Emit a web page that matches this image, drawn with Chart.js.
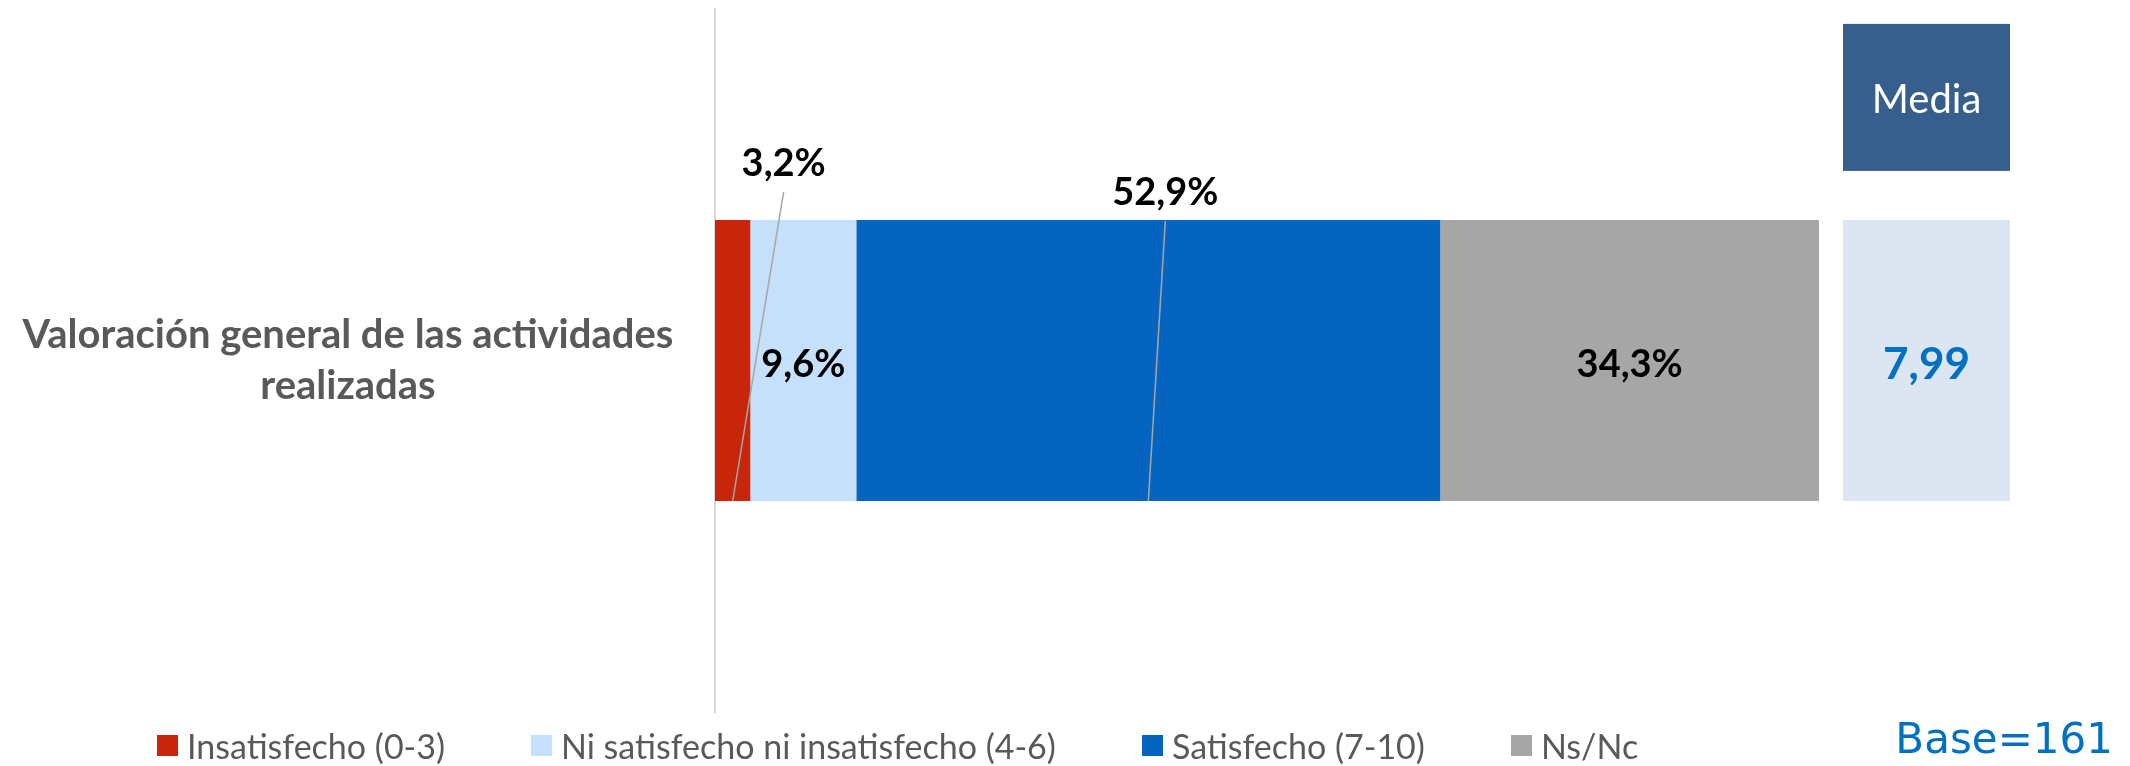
<!DOCTYPE html>
<html>
<head>
<meta charset="utf-8">
<script src="https://cdn.jsdelivr.net/npm/chart.js@4.4.1/dist/chart.umd.min.js"></script>
<style>
  html, body { margin: 0; padding: 0; background: #fff; }
  #wrap { position: relative; width: 2130px; height: 766px; overflow: hidden; }
  #chart { position: absolute; left: 0; top: 0; }
  #legend { position: absolute; left: 157px; top: 725px; height: 41px; display: flex; align-items: center;
            gap: 86px; font-family: Lato, "Open Sans", sans-serif; font-size: 34px; color: #595959; }
  #legend .item { display: flex; align-items: center; white-space: nowrap; }
  #legend .sw { width: 21px; height: 21px; margin-right: 9px; }
  #base { position: absolute; right: 17px; top: 718px; font: 42px/1 "DejaVu Sans", sans-serif; color: #0070c0; }
</style>
</head>
<body>
<div id="wrap">
  <canvas id="chart" width="2130" height="766"></canvas>
  <div id="legend"></div>
  <div id="base"></div>
</div>
<script>
// ---- data ----
const CATEGORIES = [['Valoración general de las actividades', 'realizadas']];
const SERIES = ['Insatisfecho (0-3)', 'Ni satisfecho ni insatisfecho (4-6)', 'Satisfecho (7-10)', 'Ns/Nc'];
const INSATISFECHO = [3.2];
const NI_NI = [9.6];
const SATISFECHO = [52.9];
const NS_NC = [34.3];
const MEDIA = [7.99];
const BASE = 161;

// ---- style ----
const COLORS = ['#c8260a', '#c5e0fa', '#0564c0', '#a6a6a6'];
// label offset (dx from bar centre, dy from bar top) for labels pulled out with a leader line
const LABEL_SHIFT = [[51, -56], null, [17, -27], null];
const FONT = 'Lato, "Open Sans", sans-serif';

const fmt = v => v.toFixed(1).replace('.', ',') + '%';
const fmtMean = v => v.toFixed(2).replace('.', ',');

// centre the category label around x≈348 inside a 715px wide axis
const LABEL_SIZE = 40;
const mctx = document.createElement('canvas').getContext('2d');
mctx.font = 'bold ' + LABEL_SIZE + 'px ' + FONT;
const widest = Math.max(...CATEGORIES[0].map(s => mctx.measureText(s).width));
const tickPad = 715 - 348 - widest / 2;

const barLabels = {
  id: 'barLabels',
  afterDatasetsDraw(chart) {
    const ctx = chart.ctx;
    ctx.save();
    ctx.textAlign = 'center';
    ctx.textBaseline = 'middle';

    // Media boxes, aligned with each bar
    chart.getDatasetMeta(0).data.forEach((bar, j) => {
      const top = bar.y - bar.height / 2;
      const x0 = chart.chartArea.right + 24, w = 167;
      ctx.fillStyle = '#dce6f2';
      ctx.fillRect(x0, top, w, bar.height);
      ctx.fillStyle = '#0070c0';
      ctx.font = 'bold 44px ' + FONT;
      ctx.fillText(fmtMean(MEDIA[j]), x0 + w / 2, bar.y + 4);
      ctx.fillStyle = '#375f8e';
      ctx.fillRect(x0, top - 196, w, 147);
      ctx.fillStyle = '#fff';
      ctx.font = '40px ' + FONT;
      ctx.fillText('Media', x0 + w / 2, top - 196 + 147 / 2 + 3);
    });

    // value labels
    ctx.font = 'bold 38px ' + FONT;
    chart.data.datasets.forEach((ds, i) => {
      chart.getDatasetMeta(i).data.forEach((bar, j) => {
        const cx = (bar.x + bar.base) / 2;
        const top = bar.y - bar.height / 2, bottom = bar.y + bar.height / 2;
        const sh = LABEL_SHIFT[i];
        ctx.fillStyle = '#000';
        if (sh) {
          const lx = cx + sh[0], ly = top + sh[1];
          ctx.strokeStyle = '#a6a6a6';
          ctx.lineWidth = 1.5;
          ctx.beginPath();
          ctx.moveTo(lx, ly + 28);
          ctx.lineTo(cx, bottom);
          ctx.stroke();
          ctx.fillText(fmt(ds.data[j]), lx, ly);
        } else {
          ctx.fillText(fmt(ds.data[j]), cx, bar.y + 4);
        }
      });
    });
    ctx.restore();
  }
};

const seriesData = [INSATISFECHO, NI_NI, SATISFECHO, NS_NC];

new Chart(document.getElementById('chart'), {
  type: 'bar',
  data: {
    labels: CATEGORIES,
    datasets: SERIES.map((name, i) => ({
      label: name,
      data: seriesData[i],
      backgroundColor: COLORS[i],
      borderWidth: 0,
      barPercentage: 0.4,
      categoryPercentage: 1
    }))
  },
  options: {
    indexAxis: 'y',
    responsive: false, animation: false, devicePixelRatio: 1,
    layout: { padding: { top: 9, bottom: 54, left: 0, right: 311 } },
    scales: {
      x: { stacked: true, min: 0, max: 100, display: false },
      y: {
        stacked: true,
        grid: { display: false, drawTicks: false },
        border: { display: true, color: '#d9d9d9', width: 2 },
        ticks: {
          crossAlign: 'center', padding: tickPad, color: '#595959',
          font: { family: FONT, size: LABEL_SIZE, weight: 'bold', lineHeight: 51 / LABEL_SIZE }
        },
        afterFit(scale) {
          scale.width = 715;
          // the big tick padding is only meant horizontally
          scale.paddingTop = 0;
          scale.paddingBottom = 0;
        }
      }
    },
    plugins: { legend: { display: false }, tooltip: { enabled: false } }
  },
  plugins: [barLabels]
});

// legend + base note
const legend = document.getElementById('legend');
SERIES.forEach((name, i) => {
  const item = document.createElement('div');
  item.className = 'item';
  item.innerHTML = '<span class="sw" style="background:' + COLORS[i] + '"></span><span>' + name + '</span>';
  legend.appendChild(item);
});
document.getElementById('base').textContent = 'Base=' + BASE;
</script>
</body>
</html>
